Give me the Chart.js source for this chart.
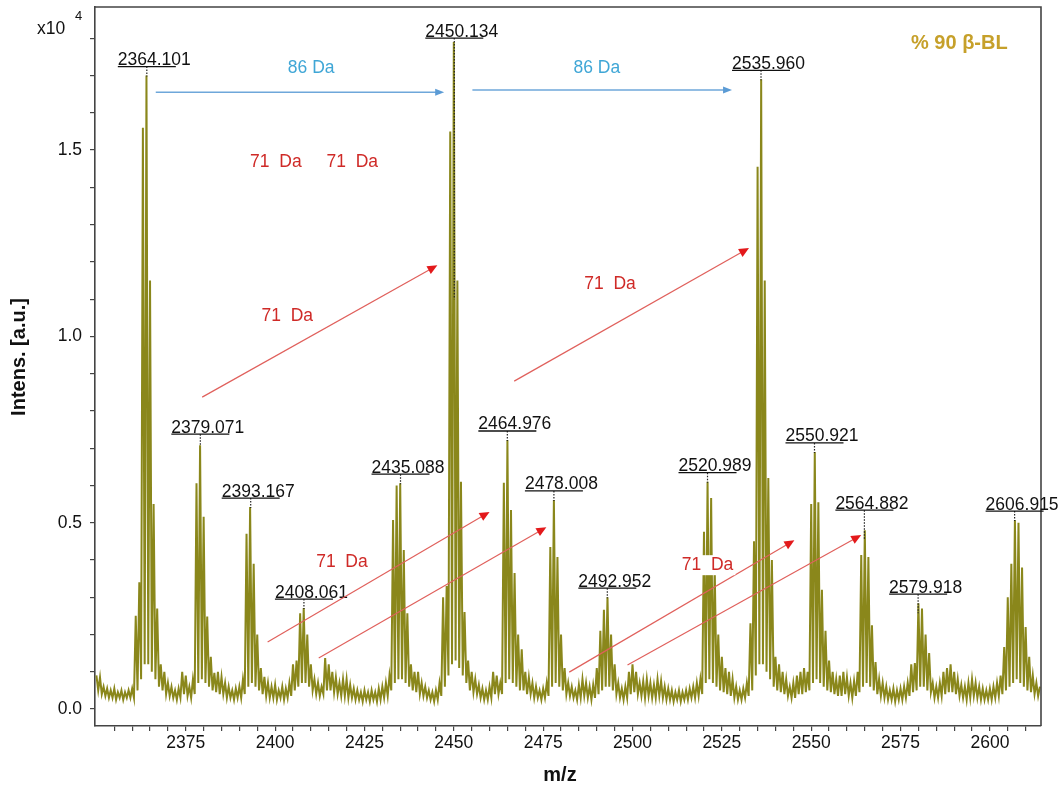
<!DOCTYPE html>
<html>
<head>
<meta charset="utf-8">
<script src="https://cdn.jsdelivr.net/npm/chart.js@4.4.1/dist/chart.umd.min.js"></script>
<style>
html,body{margin:0;padding:0;background:#fff}
#wrap{width:1061px;height:789px}
</style>
</head>
<body>
<div id="wrap"><canvas id="ms"></canvas></div>
<script>
/* MALDI spectrum, % 90 β-BL — profile sampled every 0.5 m/z from 2350 */
const MZ0 = 2350, STEP = 0.5;
const intensity = [
  /* 2350 */ 0.09,0.05,0.085,0.04,0.06,0.035,0.055,0.03,0.05,0.03,0.055,0.025,0.045,0.03,0.05,0.025,0.045,0.03,0.05,0.03,
  /* 2360 */ 0.055,0.03,0.25,0.05,0.34,0.08,1.56,0.12,1.70,0.12,1.15,0.10,0.55,0.08,0.27,0.06,0.12,0.05,0.10,0.04,
  /* 2370 */ 0.07,0.035,0.06,0.03,0.05,0.025,0.055,0.03,0.10,0.04,0.09,0.035,0.06,0.03,0.08,0.04,0.606,0.07,0.708,0.08,
  /* 2380 */ 0.516,0.07,0.248,0.06,0.14,0.05,0.097,0.045,0.10,0.04,0.086,0.04,0.07,0.03,0.06,0.03,0.05,0.025,0.055,0.03,
  /* 2390 */ 0.06,0.03,0.08,0.04,0.47,0.06,0.542,0.07,0.39,0.06,0.20,0.05,0.11,0.04,0.086,0.035,0.07,0.03,0.06,0.03,
  /* 2400 */ 0.065,0.025,0.05,0.03,0.06,0.025,0.055,0.03,0.07,0.035,0.12,0.05,0.13,0.06,0.257,0.07,0.271,0.07,0.20,0.06,
  /* 2410 */ 0.12,0.05,0.08,0.04,0.07,0.035,0.06,0.04,0.137,0.05,0.12,0.05,0.10,0.045,0.085,0.04,0.07,0.035,0.08,0.035,
  /* 2420 */ 0.08,0.03,0.065,0.03,0.055,0.025,0.05,0.025,0.045,0.02,0.05,0.025,0.045,0.02,0.05,0.025,0.045,0.02,0.055,0.025,
  /* 2430 */ 0.06,0.03,0.07,0.035,0.09,0.05,0.507,0.07,0.60,0.08,0.606,0.08,0.427,0.07,0.257,0.06,0.12,0.05,0.10,0.045,
  /* 2440 */ 0.10,0.04,0.07,0.035,0.06,0.03,0.05,0.025,0.045,0.02,0.05,0.025,0.07,0.035,0.30,0.06,0.33,0.09,1.55,0.12,
  /* 2450 */ 1.79,0.13,1.15,0.11,0.61,0.09,0.26,0.07,0.13,0.05,0.10,0.045,0.08,0.04,0.065,0.03,0.055,0.025,0.05,0.025,
  /* 2460 */ 0.06,0.03,0.10,0.04,0.09,0.04,0.07,0.04,0.607,0.07,0.722,0.08,0.534,0.07,0.365,0.06,0.20,0.05,0.16,0.05,
  /* 2470 */ 0.10,0.04,0.085,0.04,0.07,0.03,0.06,0.03,0.05,0.025,0.055,0.03,0.07,0.035,0.435,0.06,0.561,0.07,0.408,0.06,
  /* 2480 */ 0.20,0.05,0.11,0.04,0.07,0.035,0.06,0.03,0.05,0.025,0.065,0.03,0.08,0.035,0.07,0.03,0.06,0.025,0.065,0.03,
  /* 2490 */ 0.11,0.04,0.21,0.05,0.266,0.06,0.30,0.06,0.20,0.05,0.12,0.04,0.07,0.03,0.055,0.025,0.06,0.03,0.10,0.04,
  /* 2500 */ 0.12,0.045,0.10,0.04,0.07,0.035,0.075,0.03,0.08,0.035,0.07,0.03,0.065,0.03,0.08,0.035,0.075,0.03,0.06,0.025,
  /* 2510 */ 0.055,0.025,0.05,0.02,0.045,0.025,0.05,0.02,0.045,0.025,0.05,0.025,0.055,0.03,0.06,0.03,0.07,0.035,0.08,0.04,
  /* 2520 */ 0.476,0.07,0.61,0.08,0.566,0.07,0.38,0.06,0.20,0.05,0.14,0.045,0.11,0.04,0.10,0.035,0.08,0.03,0.06,0.025,
  /* 2530 */ 0.05,0.025,0.055,0.03,0.07,0.035,0.23,0.05,0.45,0.09,1.455,0.12,1.69,0.12,1.15,0.10,0.62,0.08,0.40,0.06,
  /* 2540 */ 0.14,0.05,0.12,0.045,0.10,0.04,0.08,0.035,0.06,0.03,0.07,0.03,0.09,0.04,0.10,0.04,0.11,0.045,0.10,0.05,
  /* 2550 */ 0.55,0.07,0.69,0.08,0.555,0.07,0.32,0.06,0.21,0.05,0.13,0.045,0.10,0.04,0.08,0.035,0.09,0.035,0.10,0.04,
  /* 2560 */ 0.085,0.035,0.07,0.03,0.075,0.035,0.10,0.045,0.413,0.06,0.48,0.07,0.408,0.06,0.225,0.05,0.126,0.04,0.08,0.035,
  /* 2570 */ 0.07,0.03,0.06,0.025,0.05,0.025,0.055,0.02,0.05,0.025,0.055,0.025,0.06,0.03,0.07,0.035,0.12,0.045,0.123,0.05,
  /* 2580 */ 0.284,0.06,0.27,0.06,0.20,0.05,0.15,0.045,0.07,0.03,0.06,0.03,0.07,0.035,0.10,0.04,0.11,0.045,0.12,0.045,
  /* 2590 */ 0.10,0.04,0.08,0.035,0.065,0.03,0.06,0.025,0.07,0.03,0.08,0.035,0.07,0.03,0.06,0.025,0.055,0.025,0.05,0.025,
  /* 2600 */ 0.055,0.025,0.06,0.03,0.07,0.035,0.09,0.04,0.166,0.05,0.30,0.06,0.39,0.07,0.507,0.08,0.50,0.07,0.38,0.06,
  /* 2610 */ 0.22,0.05,0.14,0.045,0.09,0.04,0.07,0.035,0.06
];

/* labelled peaks */
const peakMz = [2364.101,2379.071,2393.167,2408.061,2435.088,2450.134,2464.976,2478.008,2492.952,2520.989,2535.960,2550.921,2564.882,2579.918,2606.915];
const peakText = ['2364.101','2379.071','2393.167','2408.061','2435.088','2450.134','2464.976','2478.008','2492.952','2520.989','2535.960','2550.921','2564.882','2579.918','2606.915'];

/* mass differences: [mz1, I1, mz2, I2] */
const arrows86 = [[2366.6,1.655,2447.3,1.655],[2455.2,1.661,2527.85,1.661]];
const arrows71 = [[2379.6,0.837,2445.4,1.191],[2466.9,0.880,2532.6,1.237],[2397.9,0.180,2460.0,0.529],
                  [2412.2,0.137,2475.9,0.488],[2482.3,0.099,2545.3,0.453],[2498.6,0.118,2564.0,0.467]];
const notes86 = [[2410.1,1.72],[2490.0,1.72]];
const notes71 = [[2400.2,1.468],[2421.6,1.468],[2403.4,1.054],[2493.7,1.140],[2418.7,0.394],[2521.0,0.386]];

const xTickLabels = [2375,2400,2425,2450,2475,2500,2525,2550,2575,2600];
const yTickLabels = [0,0.5,1,1.5];
const xMinor = Array.from({length:52},(_,i)=>2355+i*5);
const yMinor = Array.from({length:19},(_,i)=>i/10);

const FONT = '"Liberation Sans", Arial, Helvetica, sans-serif';
const INK = '#111', AXIS = '#444';
const LINE = '#8a871b', BLUE = '#3fa6d6', BLUE_LN = '#6ea7da', RED = '#cf2a27', RED_LN = '#e0605c';

const spectrum = intensity.map((v,i)=>({x:MZ0+i*STEP, y:v}));
const apexOf = mz => intensity[Math.round((mz-MZ0)/STEP)];

function arrow(ctx,x1,y1,x2,y2,len,half,lineCol,headCol,lw){
  const a = Math.atan2(y2-y1,x2-x1);
  ctx.strokeStyle=lineCol; ctx.lineWidth=lw;
  ctx.beginPath(); ctx.moveTo(x1,y1); ctx.lineTo(x2-Math.cos(a)*len*0.6,y2-Math.sin(a)*len*0.6); ctx.stroke();
  ctx.fillStyle=headCol; ctx.beginPath();
  ctx.moveTo(x2,y2);
  ctx.lineTo(x2-Math.cos(a)*len+Math.sin(a)*half, y2-Math.sin(a)*len-Math.cos(a)*half);
  ctx.lineTo(x2-Math.cos(a)*len-Math.sin(a)*half, y2-Math.sin(a)*len+Math.cos(a)*half);
  ctx.closePath(); ctx.fill();
}

const overlay = {
  id:'overlay',
  afterDatasetsDraw(chart){
    const {ctx, chartArea:a, scales:{x,y}} = chart;
    ctx.save();
    // frame top + right
    ctx.strokeStyle=AXIS; ctx.lineWidth=1.6;
    ctx.beginPath(); ctx.moveTo(a.left,a.top); ctx.lineTo(a.right,a.top); ctx.lineTo(a.right,a.bottom); ctx.stroke();

    // peak labels: underlined value + dotted drop to the apex
    ctx.font = `17.5px ${FONT}`; ctx.textAlign='left'; ctx.textBaseline='alphabetic';
    peakMz.forEach((mz,i)=>{
      const px = x.getPixelForValue(mz), ay = y.getPixelForValue(apexOf(mz));
      const lift = mz===2450.134 ? 4 : mz===2564.882 ? 20 : mz===2379.071 ? 11 : 9;
      const uy = ay - lift;
      let dropTo = ay + 1;
      if (mz===2450.134) dropTo = y.getPixelForValue(1.10);
      if (mz===2564.882 || mz===2579.918) dropTo = ay + 10;
      ctx.strokeStyle='#222'; ctx.lineWidth=1.2; ctx.setLineDash([1.5,1.5]);
      ctx.beginPath(); ctx.moveTo(px,uy); ctx.lineTo(px,dropTo); ctx.stroke();
      ctx.setLineDash([]);
      ctx.strokeStyle=INK; ctx.lineWidth=1.3;
      ctx.beginPath(); ctx.moveTo(px-29,uy); ctx.lineTo(px+29,uy); ctx.stroke();
      ctx.fillStyle=INK; ctx.fillText(peakText[i], px-29, uy-1.5);
    });

    // 86 Da steps
    arrows86.forEach(r=>arrow(ctx,x.getPixelForValue(r[0]),y.getPixelForValue(r[1]),x.getPixelForValue(r[2]),y.getPixelForValue(r[3]),9,3.5,BLUE_LN,'#5b9bd5',1.5));
    ctx.font = `17.5px ${FONT}`; ctx.textAlign='center'; ctx.textBaseline='middle'; ctx.fillStyle=BLUE;
    notes86.forEach(n=>ctx.fillText('86 Da', x.getPixelForValue(n[0]), y.getPixelForValue(n[1])));

    // 71 Da steps
    arrows71.forEach(r=>arrow(ctx,x.getPixelForValue(r[0]),y.getPixelForValue(r[1]),x.getPixelForValue(r[2]),y.getPixelForValue(r[3]),10,4.5,RED_LN,'#e3191b',1.2));
    notes71.forEach(n=>{
      const cx = x.getPixelForValue(n[0]), cy = y.getPixelForValue(n[1]);
      const w = ctx.measureText('71  Da').width;
      ctx.fillStyle='#fff'; ctx.fillRect(cx-w/2-2, cy-10, w+4, 20);
      ctx.fillStyle=RED; ctx.fillText('71  Da', cx, cy);
    });

    // sample tag
    ctx.font = `bold 20px ${FONT}`; ctx.fillStyle='#c6a02a'; ctx.textAlign='left';
    ctx.fillText('% 90 β-BL', 911, 43);

    // exponent + axis titles
    ctx.fillStyle=INK; ctx.textAlign='left'; ctx.textBaseline='alphabetic';
    ctx.font = `17.5px ${FONT}`; ctx.fillText('x10', 37, 34);
    ctx.font = `13px ${FONT}`; ctx.fillText('4', 75, 20);
    ctx.font = `bold 20px ${FONT}`; ctx.textAlign='center'; ctx.textBaseline='middle';
    ctx.fillText('m/z', 560, 775);
    ctx.translate(19,357); ctx.rotate(-Math.PI/2); ctx.fillText('Intens. [a.u.]', 0, 0);
    ctx.restore();
  }
};

new Chart(document.getElementById('ms'),{
  type:'line',
  data:{datasets:[{data:spectrum, borderColor:LINE, borderWidth:2, pointRadius:0, tension:0, fill:false}]},
  options:{
    responsive:true, maintainAspectRatio:false, animation:false,
    layout:{padding:{left:0,right:20,top:7,bottom:0}},
    plugins:{legend:{display:false}, tooltip:{enabled:false}},
    scales:{
      x:{type:'linear', min:2349.6, max:2614.3,
        afterBuildTicks:s=>{s.ticks = xMinor.map(v=>({value:v}));},
        afterFit:s=>{s.height=63; s.paddingLeft=0; s.paddingRight=0;},
        ticks:{autoSkip:false, maxRotation:0, padding:2, color:INK, font:{family:FONT,size:17.5},
          callback:v=>xTickLabels.includes(v)?String(v):''},
        grid:{drawOnChartArea:false, tickLength:5, color:AXIS, lineWidth:1.2},
        border:{color:AXIS, width:1.6}},
      y:{min:-0.0456, max:1.884,
        afterBuildTicks:s=>{s.ticks = yMinor.map(v=>({value:v}));},
        afterFit:s=>{s.width=95; s.paddingTop=0; s.paddingBottom=0;},
        ticks:{autoSkip:false, padding:8, color:INK, font:{family:FONT,size:17.5},
          callback:v=>yTickLabels.includes(v)?v.toFixed(1):''},
        grid:{drawOnChartArea:false, tickLength:5, color:AXIS, lineWidth:1.2},
        border:{color:AXIS, width:1.6}}
    }
  },
  plugins:[overlay]
});
</script>
</body>
</html>
